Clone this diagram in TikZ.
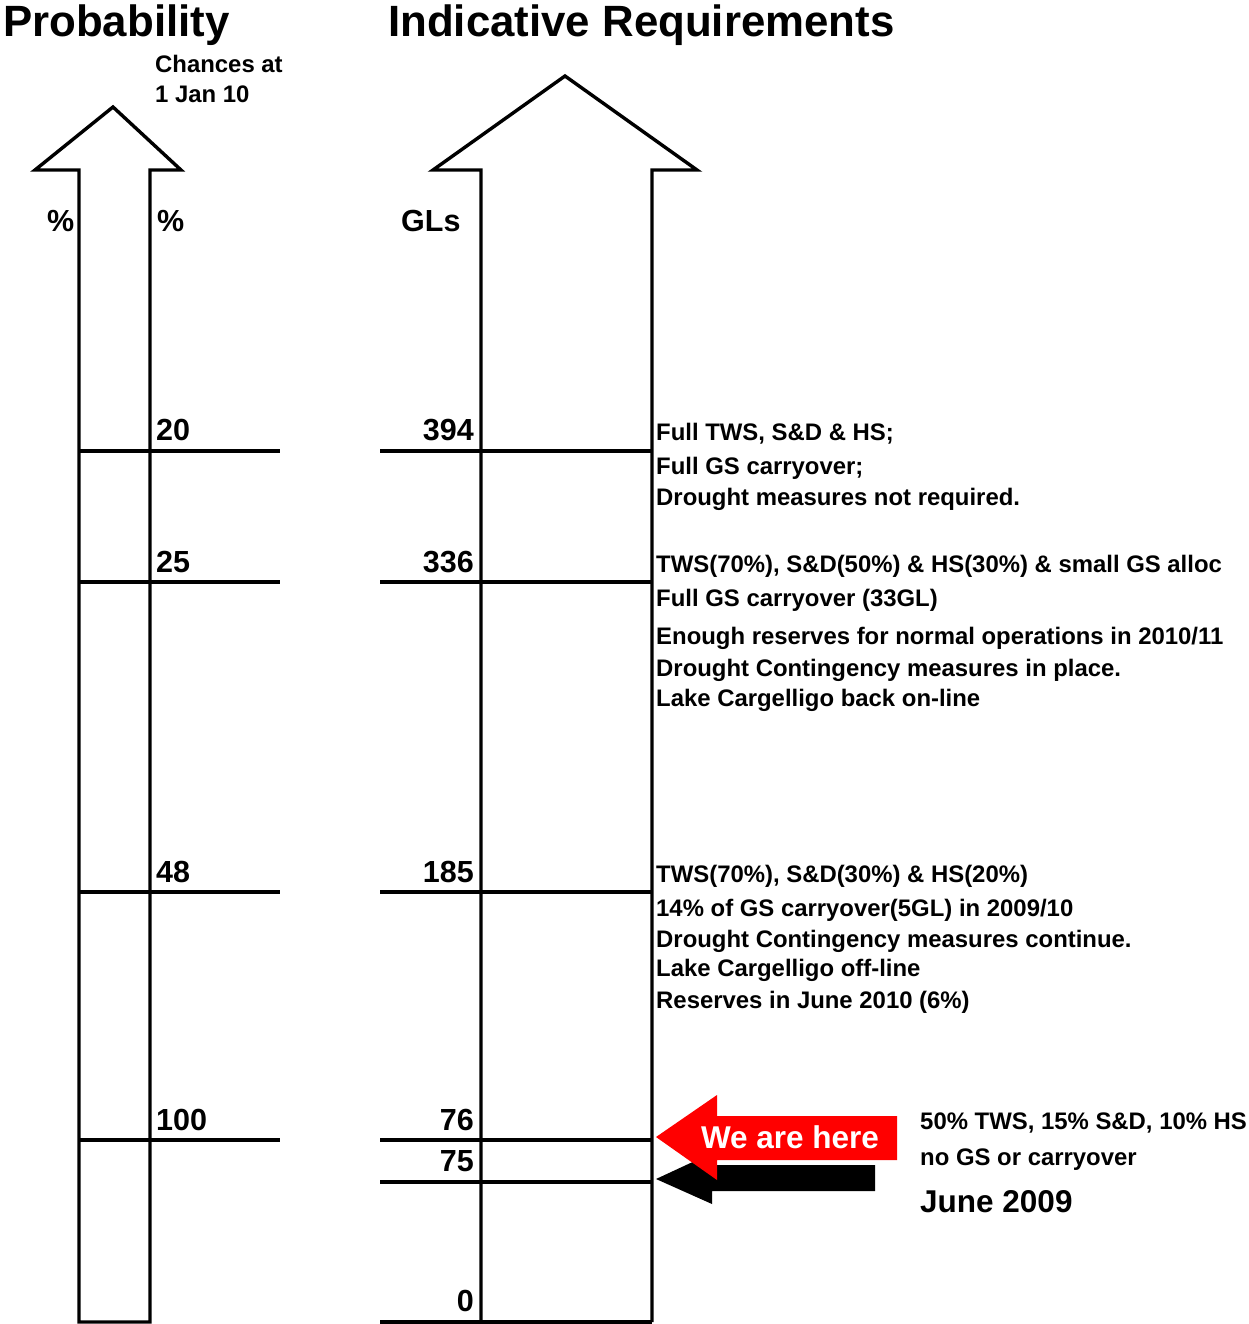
\documentclass[tikz,border=0pt]{standalone}
\usepackage{fontspec}
\setmainfont{Liberation Sans}
\begin{document}
\begin{tikzpicture}[x=1pt,y=-1pt,
  outl/.style={line width=3.4pt,line join=miter},
  tick/.style={line width=3.4pt},
  title/.style={inner sep=0pt,anchor=base west,font=\fontsize{43.8}{48}\selectfont\bfseries},
  num/.style={inner sep=0pt,font=\fontsize{30.5}{34}\selectfont\bfseries},
  small/.style={inner sep=0pt,anchor=base west,font=\fontsize{23.9}{28}\selectfont\bfseries},
  big/.style={inner sep=0pt,font=\fontsize{31.5}{36}\selectfont\bfseries}]
\useasboundingbox (0,0) rectangle (1248,1324);
% titles
\node[title] (tprob) at (3,37) {Probability};
\node[title] (treq) at (388,37) {Indicative Requirements};
\node[small] (ch1) at (155,73) {Chances at};
\node[small] (ch2) at (155,103) {1 Jan 10};
% left arrow
\draw[outl] (79,1322) -- (79,170) -- (35,170) -- (113,107) -- (181,170) -- (150,170) -- (150,1322) -- cycle;
% right arrow
\draw[outl] (481,1322) -- (481,170) -- (433,170) -- (565,76) -- (697,170) -- (652,170) -- (652,1322);
\draw[tick] (380,1322) -- (652,1322);
% unit labels
\node[num,anchor=base west] (pc1) at (47,232) {\%};
\node[num,anchor=base west] (pc2) at (157,232) {\%};
\node[num,anchor=base west] (gls) at (401,232) {GLs};
% levels
\foreach \yy in {451,582,892,1140}{
  \draw[tick] (79,\yy) -- (280,\yy);
  \draw[tick] (380,\yy) -- (652,\yy);
}
\draw[tick] (380,1182) -- (652,1182);
\node[num,anchor=base west] (p20) at (156,440) {20};
\node[num,anchor=base west] (p25) at (156,572) {25};
\node[num,anchor=base west] (p48) at (156,882) {48};
\node[num,anchor=base west] (p100) at (156,1130) {100};
\node[num,anchor=base east] (g394) at (474,440) {394};
\node[num,anchor=base east] (g336) at (474,572) {336};
\node[num,anchor=base east] (g185) at (474,882) {185};
\node[num,anchor=base east] (g76) at (474,1130) {76};
\node[num,anchor=base east] (g75) at (474,1171) {75};
\node[num,anchor=base east] (g0) at (474,1311) {0};
% descriptions
\node[small] (d1) at (656,440) {Full TWS, S\&D \& HS;};
\node[small] (d2) at (656,474) {Full GS carryover;};
\node[small] (d3) at (656,505) {Drought measures not required.};
\node[small] (d4) at (656,572) {TWS(70\%), S\&D(50\%) \& HS(30\%) \& small GS alloc};
\node[small] (d5) at (656,606) {Full GS carryover (33GL)};
\node[small] (d6) at (656,644) {Enough reserves for normal operations in 2010/11};
\node[small] (d7) at (656,676) {Drought Contingency measures in place.};
\node[small] (d8) at (656,706) {Lake Cargelligo back on-line};
\node[small] (d9) at (656,882) {TWS(70\%), S\&D(30\%) \& HS(20\%)};
\node[small] (d10) at (656,916) {14\% of GS carryover(5GL) in 2009/10};
\node[small] (d11) at (656,947) {Drought Contingency measures continue.};
\node[small] (d12) at (656,976) {Lake Cargelligo off-line};
\node[small] (d13) at (656,1008) {Reserves in June 2010 (6\%)};
% arrows
\fill[black] (656,1179) -- (712,1153) -- (712,1165) -- (875,1165) -- (875,1191) -- (712,1191) -- (712,1204) -- cycle;
\fill[red] (656,1137) -- (717,1095) -- (717,1116) -- (897,1116) -- (897,1160) -- (717,1160) -- (717,1180) -- cycle;
\node[big,white,anchor=base] (here) at (790,1148) {We are here};
\node[small] (n1) at (920,1129) {50\% TWS, 15\% S\&D, 10\% HS};
\node[small] (n2) at (920,1165) {no GS or carryover};
\node[big,anchor=base west] (june) at (920,1212) {June 2009};
\end{tikzpicture}
\end{document}
